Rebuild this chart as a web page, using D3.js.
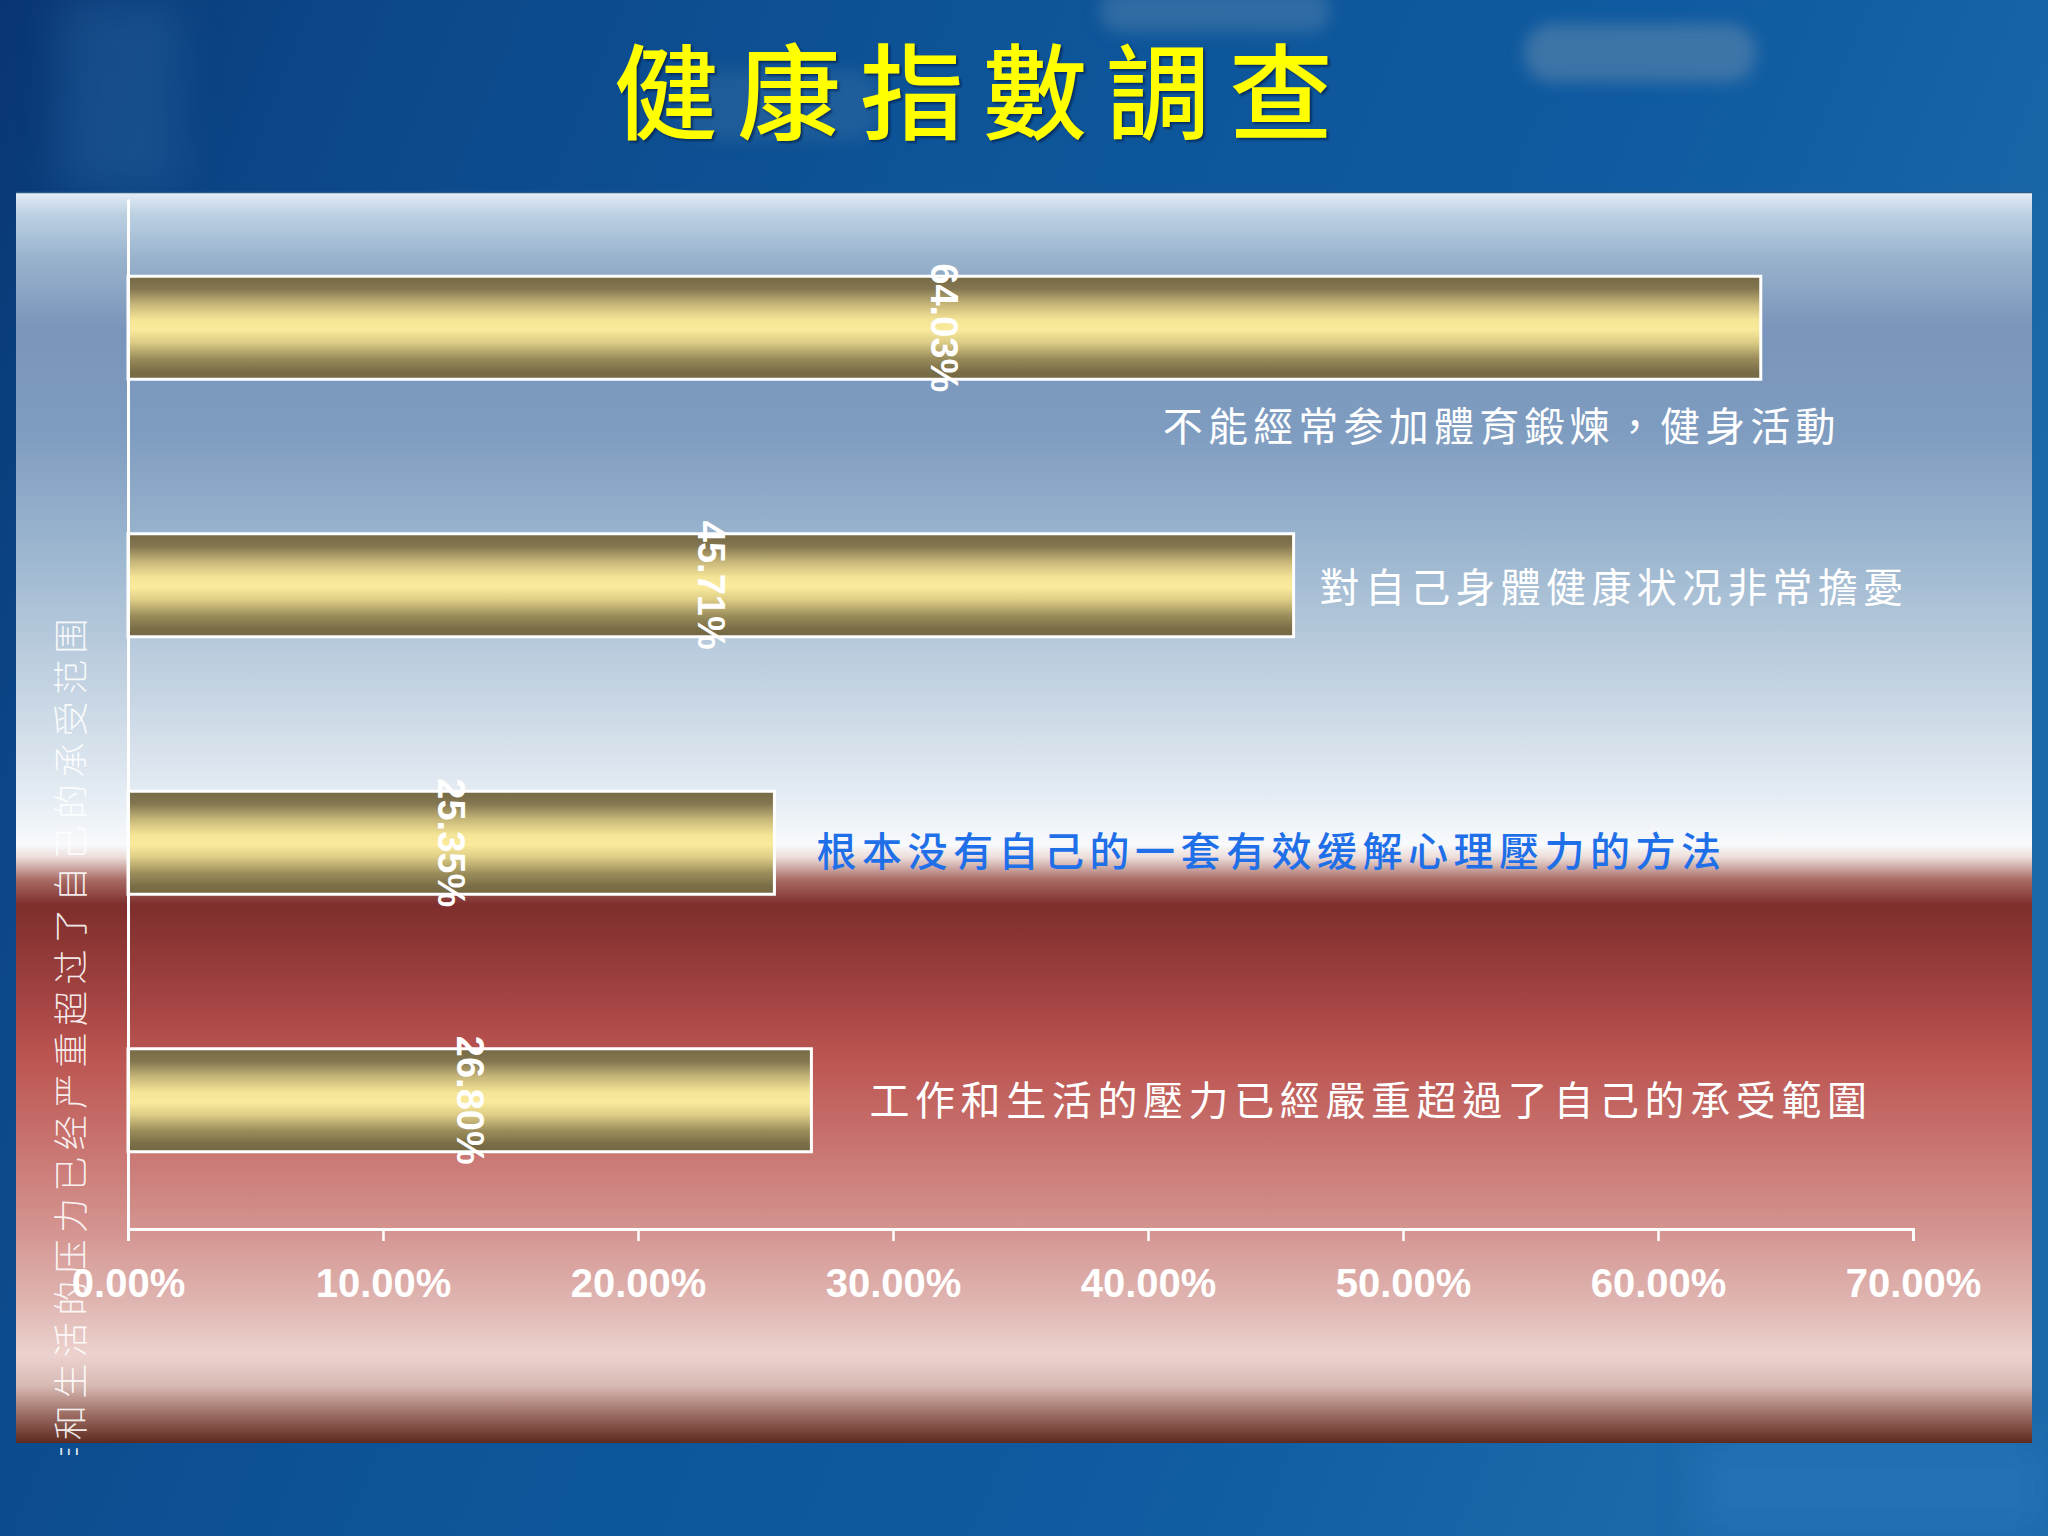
<!DOCTYPE html>
<html>
<head>
<meta charset="utf-8">
<script src="https://cdn.jsdelivr.net/npm/d3@7"></script>
<style>
  html, body { margin: 0; padding: 0; background: #0b4a8c; }
  svg { display: block; }
</style>
</head>
<body>
<script>
// ---- data ----
const title = "健康指數調查";
const categories = [
  "不能經常参加體育鍛煉，健身活動",
  "對自己身體健康状况非常擔憂",
  "根本没有自己的一套有效缓解心理壓力的方法",
  "工作和生活的壓力已經嚴重超過了自己的承受範圍"
];
const values = [64.03, 45.71, 25.35, 26.80];
const valueLabels = ["64.03%", "45.71%", "25.35%", "26.80%"];
const tickValues = [0, 10, 20, 30, 40, 50, 60, 70];
const tickLabels = ["0.00%", "10.00%", "20.00%", "30.00%", "40.00%", "50.00%", "60.00%", "70.00%"];
const axisTitle = "工作和生活的压力已经严重超过了自己的承受范围";

// ---- layout ----
const W = 2048, H = 1536;
const panel = { x: 16, y: 192, w: 2016, h: 1251 };
const plot = { left: 128, right: 1913, top: 199, bottom: 1229 };
const cjk = "'Noto Sans CJK TC','Noto Sans CJK SC',sans-serif";
const latin = "'Liberation Sans',Arial,sans-serif";

const svg = d3.select("body").append("svg").attr("width", W).attr("height", H);
const defs = svg.append("defs");

// background gradient
const bg = defs.append("linearGradient").attr("id", "bg").attr("x1", 0).attr("y1", 0).attr("x2", 1).attr("y2", 0.3);
[[0, "#093672"], [0.15, "#0c4788"], [0.45, "#0d5498"], [0.75, "#0f5aa0"], [1, "#1b68aa"]]
  .forEach(([o, c]) => bg.append("stop").attr("offset", o).attr("stop-color", c));

const blur = defs.append("filter").attr("id", "blur").attr("x", "-50%").attr("y", "-50%").attr("width", "200%").attr("height", "200%");
blur.append("feGaussianBlur").attr("stdDeviation", 8);
const blur2 = defs.append("filter").attr("id", "blur2").attr("x", "-50%").attr("y", "-50%").attr("width", "200%").attr("height", "200%");
blur2.append("feGaussianBlur").attr("stdDeviation", 20);

// panel gradient
const pg = defs.append("linearGradient").attr("id", "panelGrad").attr("x1", 0).attr("y1", 0).attr("x2", 0).attr("y2", 1);
[[0, "#e4eef6"], [0.018, "#bcd0e2"], [0.054, "#98b2cc"], [0.11, "#7a94bb"], [0.19, "#7e9cc0"],
 [0.294, "#9eb8d0"], [0.406, "#c8d6e4"], [0.486, "#e6edf4"], [0.522, "#f8fafc"], [0.532, "#ecdcd8"],
 [0.55, "#a86a64"], [0.57, "#7e2e2c"], [0.646, "#a44442"], [0.694, "#bc5652"], [0.758, "#c8726e"],
 [0.83, "#d49490"], [0.886, "#dfb4b0"], [0.93, "#ecd2ce"], [0.954, "#d8bab4"], [0.978, "#9a6a60"], [1, "#5e2a20"]]
  .forEach(([o, c]) => pg.append("stop").attr("offset", o).attr("stop-color", c));

// gold bar gradient
const gg = defs.append("linearGradient").attr("id", "gold").attr("x1", 0).attr("y1", 0).attr("x2", 0).attr("y2", 1);
[[0, "#756a45"], [0.12, "#837650"], [0.28, "#c9b97a"], [0.42, "#f4e496"], [0.52, "#faea9c"],
 [0.64, "#ddcd86"], [0.8, "#9a8c5a"], [0.92, "#7a6e47"], [1, "#746843"]]
  .forEach(([o, c]) => gg.append("stop").attr("offset", o).attr("stop-color", c));

const clip = defs.append("clipPath").attr("id", "panelClip");
clip.append("rect").attr("x", panel.x).attr("y", panel.y).attr("width", panel.w).attr("height", panel.h + 12);

// background
svg.append("rect").attr("width", W).attr("height", H).attr("fill", "url(#bg)");
// soft streaks / blobs
const blobs = svg.append("g");
blobs.append("rect").attr("x", 1524).attr("y", 24).attr("width", 232).attr("height", 58).attr("rx", 28)
  .attr("fill", "#4d7eaa").attr("opacity", 0.75).attr("filter", "url(#blur)");
blobs.append("rect").attr("x", 1100).attr("y", -10).attr("width", 230).attr("height", 42).attr("rx", 20)
  .attr("fill", "#4d7eaa").attr("opacity", 0.55).attr("filter", "url(#blur)");
blobs.append("rect").attr("x", 680).attr("y", 70).attr("width", 200).attr("height", 70).attr("rx", 30)
  .attr("fill", "#3f74a6").attr("opacity", 0.35).attr("filter", "url(#blur)");
blobs.append("rect").attr("x", 60).attr("y", 0).attr("width", 120).attr("height", 190)
  .attr("fill", "#2e6aa6").attr("opacity", 0.35).attr("filter", "url(#blur2)");
blobs.append("rect").attr("x", 1700).attr("y", 1440).attr("width", 348).attr("height", 96)
  .attr("fill", "#2a78bc").attr("opacity", 0.6).attr("filter", "url(#blur2)");

// title
svg.append("text")
  .attr("x", 614).attr("y", 86)
  .attr("dominant-baseline", "central")
  .attr("font-family", cjk).attr("font-weight", 500)
  .attr("font-size", 104).attr("letter-spacing", 19)
  .attr("fill", "#ffff00")
  .style("filter", "drop-shadow(2px 2px 1px rgba(0,20,60,0.6))")
  .text(title);

// panel
svg.append("rect").attr("x", panel.x).attr("y", panel.y).attr("width", panel.w).attr("height", panel.h)
  .attr("fill", "url(#panelGrad)");
svg.append("line").attr("x1", panel.x).attr("x2", panel.x + panel.w).attr("y1", panel.y + 0.5).attr("y2", panel.y + 0.5)
  .attr("stroke", "#2a5a86").attr("stroke-width", 1.5);

// scales
const x = d3.scaleLinear().domain([0, 70]).range([plot.left, plot.right]);
const y = d3.scaleBand().domain(categories).range([plot.top, plot.bottom]).paddingInner(0.6).paddingOuter(0.3);

// axis title (vertical, clipped by panel)
svg.append("g").attr("clip-path", "url(#panelClip)")
  .append("text")
  .attr("transform", `translate(68, 612) rotate(-90)`)
  .attr("text-anchor", "end")
  .attr("dominant-baseline", "central")
  .attr("font-family", cjk).attr("font-weight", 300)
  .attr("font-size", 35).attr("letter-spacing", 6.4)
  .attr("fill", "#ffffff").attr("fill-opacity", 0.9)
  .text(axisTitle);

// bars
svg.append("g").selectAll("rect").data(categories).join("rect")
  .attr("x", x(0))
  .attr("y", d => y(d))
  .attr("width", (d, i) => x(values[i]) - x(0))
  .attr("height", y.bandwidth())
  .attr("fill", "url(#gold)")
  .attr("stroke", "#ffffff").attr("stroke-width", 3);

// axes
const xAxis = d3.axisBottom(x).tickValues(tickValues)
  .tickFormat((d, i) => tickLabels[i]).tickSizeInner(12).tickSizeOuter(12).tickPadding(28);
const gx = svg.append("g").attr("transform", `translate(0,${plot.bottom})`).call(xAxis);
gx.select(".domain").attr("stroke", "#ffffff").attr("stroke-width", 3);
gx.selectAll(".tick line").attr("stroke", "#ffffff").attr("stroke-width", 2.5);
gx.selectAll(".tick text").attr("fill", "#ffffff")
  .attr("font-family", latin).attr("font-weight", 700).attr("font-size", 40);

const yAxis = d3.axisLeft(y).tickSize(0).tickFormat("");
const gy = svg.append("g").attr("transform", `translate(${plot.left},0)`).call(yAxis);
gy.select(".domain").attr("stroke", "#ffffff").attr("stroke-width", 3);

// value labels (rotated, centered at half value)
svg.append("g").selectAll("text").data(categories).join("text")
  .attr("transform", (d, i) => `translate(${x(values[i] / 2)},${y(d) + y.bandwidth() / 2}) rotate(90)`)
  .attr("text-anchor", "middle").attr("dominant-baseline", "central")
  .attr("font-family", latin).attr("font-weight", 700).attr("font-size", 38)
  .attr("fill", "#ffffff")
  .text((d, i) => valueLabels[i]);

// category labels
const labelStyle = [
  { dx: 0, dy: 96, anchor: "end", color: "#ffffff", weight: 400, ls: 5.2, endOff: 80 },
  { dx: 26, dy: 0, anchor: "start", color: "#ffffff", weight: 400, ls: 5.3 },
  { dx: 42, dy: 6, anchor: "start", color: "#1f6fe8", weight: 500, ls: 5.5 },
  { dx: 58, dy: -2, anchor: "start", color: "#ffffff", weight: 400, ls: 5.6 }
];
svg.append("g").selectAll("text").data(categories).join("text")
  .attr("x", (d, i) => {
    const s = labelStyle[i];
    return s.anchor === "end" ? x(values[i]) + s.endOff : x(values[i]) + s.dx;
  })
  .attr("y", (d, i) => y(d) + y.bandwidth() / 2 + labelStyle[i].dy)
  .attr("text-anchor", (d, i) => labelStyle[i].anchor)
  .attr("dominant-baseline", "central")
  .attr("font-family", cjk)
  .attr("font-weight", (d, i) => labelStyle[i].weight)
  .attr("font-size", 40)
  .attr("letter-spacing", (d, i) => labelStyle[i].ls)
  .attr("fill", (d, i) => labelStyle[i].color)
  .text(d => d);
</script>
</body>
</html>
